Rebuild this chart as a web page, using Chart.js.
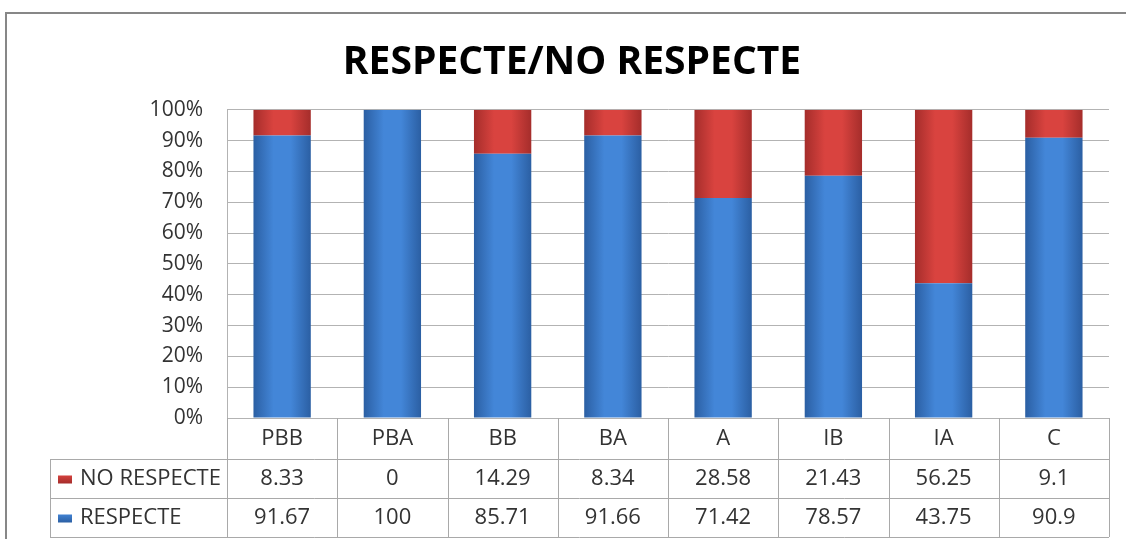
<!DOCTYPE html>
<html>
<head>
<meta charset="utf-8">
<script src="https://cdn.jsdelivr.net/npm/chart.js@4"></script>
<style>
  html, body { margin: 0; padding: 0; background: #fff; }
  #wrap { width: 1126px; height: 539px; }
</style>
</head>
<body>
<div id="wrap"><canvas id="grafico"></canvas></div>
<script>
// Dados do gráfico
const categorias = ['PBB', 'PBA', 'BB', 'BA', 'A', 'IB', 'IA', 'C'];
const respecte = [91.67, 100, 85.71, 91.66, 71.42, 78.57, 43.75, 90.9];
const noRespecte = [8.33, 0, 14.29, 8.34, 28.58, 21.43, 56.25, 9.1];
const ticksY = [0, 10, 20, 30, 40, 50, 60, 70, 80, 90, 100];

const FONTE = "'Open Sans', sans-serif";
const AZUL = ['#2b5fa3', '#4386d8', '#2b5fa3'];
const VERMELHO = ['#a52d2b', '#d9433f', '#a52d2b'];

// degradê horizontal para cada barra
function degrade(cores) {
    return function (c) {
        const chart = c.chart;
        const x = chart.scales.x;
        if (!chart.chartArea || !x) return cores[1];
        const larg = (chart.chartArea.width / categorias.length) * 0.52;
        const cx = x.getPixelForValue(c.dataIndex);
        const g = chart.ctx.createLinearGradient(cx - larg / 2, 0, cx + larg / 2, 0);
        g.addColorStop(0, cores[0]);
        g.addColorStop(0.35, cores[1]);
        g.addColorStop(0.65, cores[1]);
        g.addColorStop(1, cores[2]);
        return g;
    };
}

// moldura externa
const moldura = {
    id: 'moldura',
    beforeDraw(chart) {
        const ctx = chart.ctx;
        ctx.save();
        ctx.strokeStyle = '#878787';
        ctx.lineWidth = 2;
        ctx.beginPath();
        ctx.moveTo(6, chart.height);
        ctx.lineTo(6, 13);
        ctx.lineTo(chart.width, 13);
        ctx.stroke();
        ctx.restore();
    }
};

// tabela de dados embaixo do gráfico
const tabela = {
    id: 'tabela',
    afterDraw(chart) {
        const ctx = chart.ctx;
        const area = chart.chartArea;
        const x = chart.scales.x;
        const n = categorias.length;
        const w = area.width / n;
        const y0 = area.bottom;
        const y1 = y0 + 41, y2 = y1 + 39, y3 = y2 + 39;
        const esq = 50;
        ctx.save();
        ctx.strokeStyle = '#a9a9a9';
        ctx.lineWidth = 1;
        ctx.beginPath();
        for (let i = 0; i <= n; i++) {
            const px = Math.round(area.left + i * w) + 0.5;
            ctx.moveTo(px, y0);
            ctx.lineTo(px, y3);
        }
        ctx.moveTo(esq + 0.5, y1);
        ctx.lineTo(esq + 0.5, y3);
        [y1, y2, y3].forEach(yy => {
            ctx.moveTo(esq, Math.round(yy) + 0.5);
            ctx.lineTo(area.right, Math.round(yy) + 0.5);
        });
        ctx.stroke();

        ctx.fillStyle = '#333';
        ctx.font = '22px ' + FONTE;
        ctx.textAlign = 'center';
        ctx.textBaseline = 'middle';
        categorias.forEach((cat, i) => {
            const cx = x.getPixelForValue(i);
            ctx.fillText(cat, cx, (y0 + y1) / 2);
            ctx.fillText(String(noRespecte[i]), cx, (y1 + y2) / 2);
            ctx.fillText(String(respecte[i]), cx, (y2 + y3) / 2);
        });

        // rótulos das séries com marcador
        const linhas = [
            { nome: 'NO RESPECTE', cores: VERMELHO, y: (y1 + y2) / 2 },
            { nome: 'RESPECTE', cores: AZUL, y: (y2 + y3) / 2 }
        ];
        linhas.forEach(l => {
            const g = ctx.createLinearGradient(0, l.y - 4, 0, l.y + 5);
            g.addColorStop(0, l.cores[1]);
            g.addColorStop(1, l.cores[0]);
            ctx.fillStyle = g;
            ctx.fillRect(58, l.y - 3, 14, 8);
            ctx.fillStyle = '#333';
            ctx.textAlign = 'left';
            ctx.fillText(l.nome, 80, l.y);
        });
        ctx.restore();
    }
};

const ctx = document.getElementById('grafico').getContext('2d');

new Chart(ctx, {
    type: 'bar',
    data: {
        labels: categorias,
        datasets: [{
            label: 'RESPECTE',
            data: respecte,
            backgroundColor: degrade(AZUL),
            borderWidth: 0
        }, {
            label: 'NO RESPECTE',
            data: noRespecte,
            backgroundColor: degrade(VERMELHO),
            borderWidth: 0
        }]
    },
    options: {
        responsive: true,
        maintainAspectRatio: false,
        animation: false,
        layout: {
            padding: { left: 18, right: 0, top: 0, bottom: 121 }
        },
        datasets: {
            bar: { categoryPercentage: 1, barPercentage: 0.52 }
        },
        plugins: {
            legend: { display: false },
            tooltip: { enabled: false },
            title: {
                display: true,
                text: 'RESPECTE/NO RESPECTE',
                color: '#000',
                font: { family: FONTE, size: 39, weight: 'bold', lineHeight: 1.2 },
                padding: { top: 39, bottom: 24 }
            }
        },
        scales: {
            x: {
                stacked: true,
                display: false
            },
            y: {
                stacked: true,
                min: 0,
                max: 100,
                afterBuildTicks(scale) {
                    scale.ticks = ticksY.map(v => ({ value: v }));
                },
                afterFit(scale) {
                    scale.width = 209;
                },
                grid: {
                    color: '#b3b3b3',
                    drawTicks: false
                },
                border: { display: true, color: '#b3b3b3' },
                ticks: {
                    padding: 24,
                    color: '#333',
                    font: { family: FONTE, size: 21 },
                    callback: v => v + '%'
                }
            },
            // eixo vazio só para reservar a margem direita
            margem: {
                position: 'right',
                grid: { display: false },
                border: { display: false },
                ticks: { display: false },
                afterFit(scale) {
                    scale.width = 17;
                }
            }
        }
    },
    plugins: [moldura, tabela]
});
</script>
</body>
</html>
